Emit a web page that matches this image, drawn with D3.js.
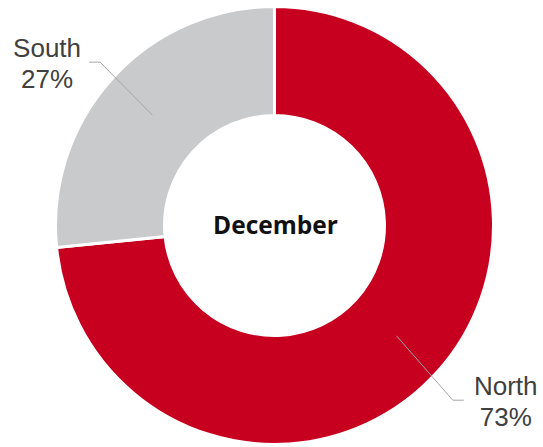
<!DOCTYPE html>
<html lang="en">
<head>
    <meta charset="UTF-8">
    <title>December donut</title>
    <script src="https://d3js.org/d3.v7.min.js"></script>
    <style>
        body { margin: 0; background: #fff; }
    </style>
</head>
<body>
 <div id="mainbody"></div>
 <script>

    // data
    const regions = ["North", "South"];
    const shares = [73.4, 26.6];
    const colours = ["#C8001F", "#C9CACC"];
    const title = "December";

    // label placement (layout only): elbow radius and small angle nudge, per slice
    const elbowRadius = [249.6, 239];
    const elbowNudge = [2.3, 1.0]; // degrees

    const width = 543, height = 447;
    const cx = 274.5, cy = 225.5;
    const outerR = 219, innerR = 110;

    let svg = d3.select("#mainbody").append("svg")
        .attr("width", width)
        .attr("height", height);

    let g = svg.append("g")
        .attr("transform", `translate(${cx},${cy})`);

    const pie = d3.pie().sort(null).value(d => d.value);
    const arcs = pie(regions.map((r, i) => ({ name: r, value: shares[i], colour: colours[i], i: i })));

    const arc = d3.arc().innerRadius(innerR).outerRadius(outerR);
    const midArc = d3.arc().innerRadius((innerR + outerR) / 2).outerRadius((innerR + outerR) / 2);

    g.selectAll(".slice")
        .data(arcs)
        .enter()
        .append("path")
        .attr("class", "slice")
        .attr("d", arc)
        .attr("fill", d => d.data.colour)
        .attr("stroke", "#fff")
        .attr("stroke-width", 3);

    // leader lines: centroid -> elbow -> short horizontal tail
    function elbow(d) {
        const a = (d.startAngle + d.endAngle) / 2 + elbowNudge[d.data.i] * Math.PI / 180;
        const r = elbowRadius[d.data.i];
        return [r * Math.sin(a), -r * Math.cos(a)];
    }
    function side(d) {
        const a = (d.startAngle + d.endAngle) / 2;
        return Math.sin(a) < 0 ? -1 : 1;
    }

    g.selectAll(".leader")
        .data(arcs)
        .enter()
        .append("polyline")
        .attr("class", "leader")
        .attr("fill", "none")
        .attr("stroke", "#A6A6A6")
        .attr("stroke-width", 1)
        .attr("points", d => {
            const c = midArc.centroid(d);
            const e = elbow(d);
            return [c, e, [e[0] + side(d) * 11, e[1]]].map(p => p.join(",")).join(" ");
        });

    let labels = g.selectAll(".lbl")
        .data(arcs)
        .enter()
        .append("text")
        .attr("class", "lbl")
        .attr("text-anchor", "middle")
        .attr("font-family", "'Liberation Sans', Arial, sans-serif")
        .attr("font-size", "26px")
        .attr("fill", "#404040");

    labels.append("tspan")
        .attr("x", d => elbow(d)[0] + side(d) * 53)
        .attr("y", d => elbow(d)[1] - 5)
        .text(d => d.data.name);

    labels.append("tspan")
        .attr("x", d => elbow(d)[0] + side(d) * 53)
        .attr("y", d => elbow(d)[1] + 26)
        .text(d => Math.round(d.data.value) + "%");

    g.append("text")
        .attr("text-anchor", "middle")
        .attr("x", 1)
        .attr("y", 8.5)
        .attr("font-family", "'Open Sans', sans-serif")
        .attr("font-weight", 700)
        .attr("font-size", "24.5px")
        .attr("fill", "#111")
        .text(title);

 </script>
</body>
</html>
